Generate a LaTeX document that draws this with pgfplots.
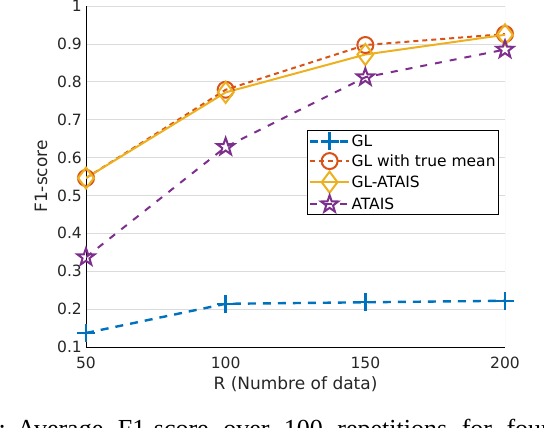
\documentclass[border=0pt]{standalone}
\usepackage{pgfplots}
\pgfplotsset{compat=1.18}
\usepackage{fontspec}
\setmainfont{DejaVu Sans}
\newfontfamily\capfont{Liberation Serif}
\usetikzlibrary{plotmarks}

\definecolor{mblue}{rgb}{0,0.447,0.741}
\definecolor{morange}{rgb}{0.85,0.325,0.098}
\definecolor{myellow}{rgb}{0.929,0.694,0.125}
\definecolor{mpurple}{rgb}{0.494,0.184,0.556}
\definecolor{mgrid}{gray}{0.86}
\definecolor{mtext}{gray}{0.15}

% five-pointed star outline (MATLAB 'p' marker)
\pgfdeclareplotmark{pentastar}{%
  \pgfpathmoveto{\pgfpointpolar{90}{\pgfplotmarksize}}%
  \pgfpathlineto{\pgfpointpolar{126}{0.4\pgfplotmarksize}}%
  \pgfpathlineto{\pgfpointpolar{162}{\pgfplotmarksize}}%
  \pgfpathlineto{\pgfpointpolar{198}{0.4\pgfplotmarksize}}%
  \pgfpathlineto{\pgfpointpolar{234}{\pgfplotmarksize}}%
  \pgfpathlineto{\pgfpointpolar{270}{0.4\pgfplotmarksize}}%
  \pgfpathlineto{\pgfpointpolar{306}{\pgfplotmarksize}}%
  \pgfpathlineto{\pgfpointpolar{342}{0.4\pgfplotmarksize}}%
  \pgfpathlineto{\pgfpointpolar{18}{\pgfplotmarksize}}%
  \pgfpathlineto{\pgfpointpolar{54}{0.4\pgfplotmarksize}}%
  \pgfpathclose\pgfusepathqstroke}

\begin{document}
\begin{tikzpicture}
\begin{axis}[
  at={(86bp,81bp)}, anchor=south west,
  scale only axis, width=419bp, height=341bp,
  xmin=50, xmax=200, ymin=0.1, ymax=1,
  xtick={50,100,150,200},
  ytick={0.1,0.2,0.3,0.4,0.5,0.6,0.7,0.8,0.9,1},
  yticklabels={0.1,0.2,0.3,0.4,0.5,0.6,0.7,0.8,0.9,1},
  axis x line*=bottom, axis y line*=left,
  axis line style={black, line width=0.8bp, -},
  major tick length=0pt,
  ymajorgrids, grid style={mgrid, line width=0.7bp},
  /pgf/number format/assume math mode=true,
  tick label style={font=\fontsize{15.5bp}{18bp}\selectfont, text=mtext, inner sep=0pt},
  xticklabel style={anchor=base, yshift=-22bp},
  yticklabel style={anchor=base east, xshift=-4bp, yshift=-5.6bp},
  xlabel={R (Numbre of data)},
  ylabel={F1-score},
  every axis x label/.style={at={(axis description cs:0.5,-0.126)}, anchor=base,
    font=\fontsize{17bp}{20bp}\selectfont, text=mtext, inner sep=0pt},
  every axis y label/.style={at={(axis description cs:-0.093,0.5)}, anchor=base,
    rotate=90, font=\fontsize{17bp}{20bp}\selectfont, text=mtext, inner sep=0pt},
  legend cell align=left,
  legend style={at={(0.986,0.636)}, anchor=north east, draw=black,
    line width=0.7bp, fill=white, inner xsep=2bp, inner ysep=2bp,
    font=\fontsize{15.5bp}{18bp}\selectfont, text=black,
    nodes={inner sep=1.2bp},
    row sep=2.6bp},
  legend image code/.code={%
    \draw[mark repeat=2, mark phase=2, #1]
      plot coordinates {(0bp,0bp) (19.5bp,0bp) (39bp,0bp)};},
]
\draw[mgrid, line width=0.7bp] (axis cs:200,0.1) -- (axis cs:200,1);

\addplot[mblue, line width=2.4bp, dash pattern=on 8bp off 7bp, mark=+, mark size=9bp,
  mark options={solid}] coordinates {
  (50,0.137) (100,0.214) (150,0.218) (200,0.222)
};
\addlegendentry{GL}

\addplot[morange, line width=2bp, dash pattern=on 5bp off 4bp, mark=o, mark size=8bp,
  mark options={solid}] coordinates {
  (50,0.546) (100,0.779) (150,0.897) (200,0.926)
};
\addlegendentry{GL with true mean}

\addplot[myellow, line width=2bp, mark=diamond, mark size=10.5bp,
  mark options={solid}] coordinates {
  (50,0.546) (100,0.772) (150,0.872) (200,0.924)
};
\addlegendentry{GL-ATAIS}

\addplot[mpurple, line width=2bp, dash pattern=on 7bp off 8bp, mark=pentastar, mark size=9bp,
  mark options={solid}] coordinates {
  (50,0.337) (100,0.628) (150,0.812) (200,0.885)
};
\addlegendentry{ATAIS}
\end{axis}

\node[font=\capfont\fontsize{26bp}{30bp}\selectfont, anchor=base east, inner sep=0pt]
  at (6bp,-9bp) {r:};
\node[font=\capfont\fontsize{26bp}{30bp}\selectfont, anchor=base west, inner sep=0pt]
  at (17bp,-9bp) {\spaceskip=14.5bp Average F1-score over 100 repetitions for four};

\pgfresetboundingbox
\useasboundingbox (0,0) rectangle (544bp,428bp);
\end{tikzpicture}
\end{document}
